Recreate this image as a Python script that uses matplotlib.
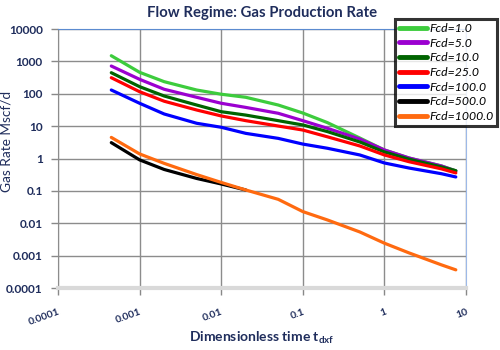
import matplotlib
matplotlib.use("Agg")
import matplotlib.pyplot as plt
from matplotlib.ticker import FixedLocator, NullLocator

plt.rcParams['font.family'] = ['Lato', 'DejaVu Sans']

t = [0.00045, 0.001, 0.002, 0.005, 0.01, 0.02, 0.05, 0.1, 0.2, 0.5, 1, 2, 5, 7.5]
fcd_1 = [1500, 461, 237, 131, 97, 78, 45, 25.5, 12.9, 4.3, 1.84, 1.04, 0.59, 0.42]
fcd_5 = [721, 280, 138, 78, 51, 38, 25, 14.8, 8.6, 4.0, 1.84, 1.04, 0.59, 0.41]
fcd_10 = [448, 166, 85.5, 45, 28, 22, 14.8, 10.9, 6.8, 3.25, 1.6, 0.96, 0.55, 0.42]
fcd_25 = [314, 116, 59, 31.6, 20.7, 14.8, 10.1, 7.6, 4.7, 2.45, 1.29, 0.8, 0.48, 0.36]
fcd_100 = [131, 51, 23.8, 12.3, 9.25, 6.0, 4.2, 2.8, 2.08, 1.29, 0.73, 0.51, 0.34, 0.27]
t_500 = [0.00045, 0.001, 0.002, 0.005, 0.01, 0.02]
fcd_500 = [3.1, 0.91, 0.46, 0.243, 0.164, 0.107]
fcd_1000 = [4.5, 1.39, 0.71, 0.32, 0.183, 0.107, 0.055, 0.023, 0.0127, 0.0054, 0.00243, 0.00122, 0.00052, 0.000365]

labels = ["Fcd=1.0", "Fcd=5.0", "Fcd=10.0", "Fcd=25.0", "Fcd=100.0", "Fcd=500.0", "Fcd=1000.0"]
colors = ["#3DCC3D", "#9B00D0", "#006400", "#FF0000", "#0000FF", "#000000", "#FF6A10"]

xticks = [0.0001, 0.001, 0.01, 0.1, 1, 10]
xtick_labels = ["0.0001", "0.001", "0.01", "0.1", "1", "10"]
yticks = [0.0001, 0.001, 0.01, 0.1, 1, 10, 100, 1000, 10000]
ytick_labels = ["0.0001", "0.001", "0.01", "0.1", "1", "10", "100", "1000", "10000"]

navy = "#1F2D5C"

fig = plt.figure(figsize=(5, 3.5), dpi=100)
ax = fig.add_axes([0.116, 0.177, 0.816, 0.740])

series = [(t, fcd_1), (t, fcd_5), (t, fcd_10), (t, fcd_25), (t, fcd_100), (t_500, fcd_500), (t, fcd_1000)]
for (xs, ys), lab, c in zip(series, labels, colors):
    ax.plot(xs, ys, color=c, lw=2.3, label=lab, solid_capstyle='round', solid_joinstyle='round')

ax.set_xscale('log')
ax.set_yscale('log')
ax.set_xlim(0.0001, 10)
ax.set_ylim(0.0001, 10000)
ax.xaxis.set_major_locator(FixedLocator(xticks))
ax.yaxis.set_major_locator(FixedLocator(yticks))
ax.xaxis.set_minor_locator(NullLocator())
ax.yaxis.set_minor_locator(NullLocator())
ax.set_xticklabels(xtick_labels, rotation=20, fontsize=7.5, fontweight='bold', color=navy,
                   ha='right', rotation_mode='anchor')
ax.set_yticklabels(ytick_labels, fontsize=8.5, fontweight='bold', color=navy)
ax.tick_params(axis='both', length=5, width=1, color='#888888', pad=6)
ax.tick_params(axis='x', pad=9)
ax.grid(True, color='#8C8C8C', lw=1)
ax.set_axisbelow(True)

ax.spines['top'].set_color('#5B8BD0')
ax.spines['right'].set_color('#9DB9E8')
ax.spines['left'].set_color('#8C8C8C')
ax.spines['bottom'].set_color('#D9D9D9')
ax.spines['bottom'].set_linewidth(3)

ax.set_title("Flow Regime: Gas Production Rate", fontsize=10.7, fontweight='bold', color=navy, pad=9)
ax.set_xlabel(r"Dimensionless time t$_{\mathregular{dxf}}$", fontsize=10, fontweight='bold', color=navy)
ax.xaxis.set_label_coords(0.5, -0.16)
ax.set_ylabel("Gas Rate Mscf/d", fontsize=9.8, color=navy)
ax.yaxis.set_label_coords(-0.111, 0.567)

leg = fig.legend(loc='upper left', bbox_to_anchor=(0.79, 0.945), frameon=True, fancybox=False,
                 prop={'style': 'italic', 'size': 8.8}, handlelength=2.3, handletextpad=0.2,
                 labelspacing=0.3, borderpad=0.3, borderaxespad=0)
leg.get_frame().set_edgecolor('black')
leg.get_frame().set_linewidth(2.2)
for line in leg.get_lines():
    line.set_linewidth(3.5)

fig.savefig("out.png", dpi=100)
